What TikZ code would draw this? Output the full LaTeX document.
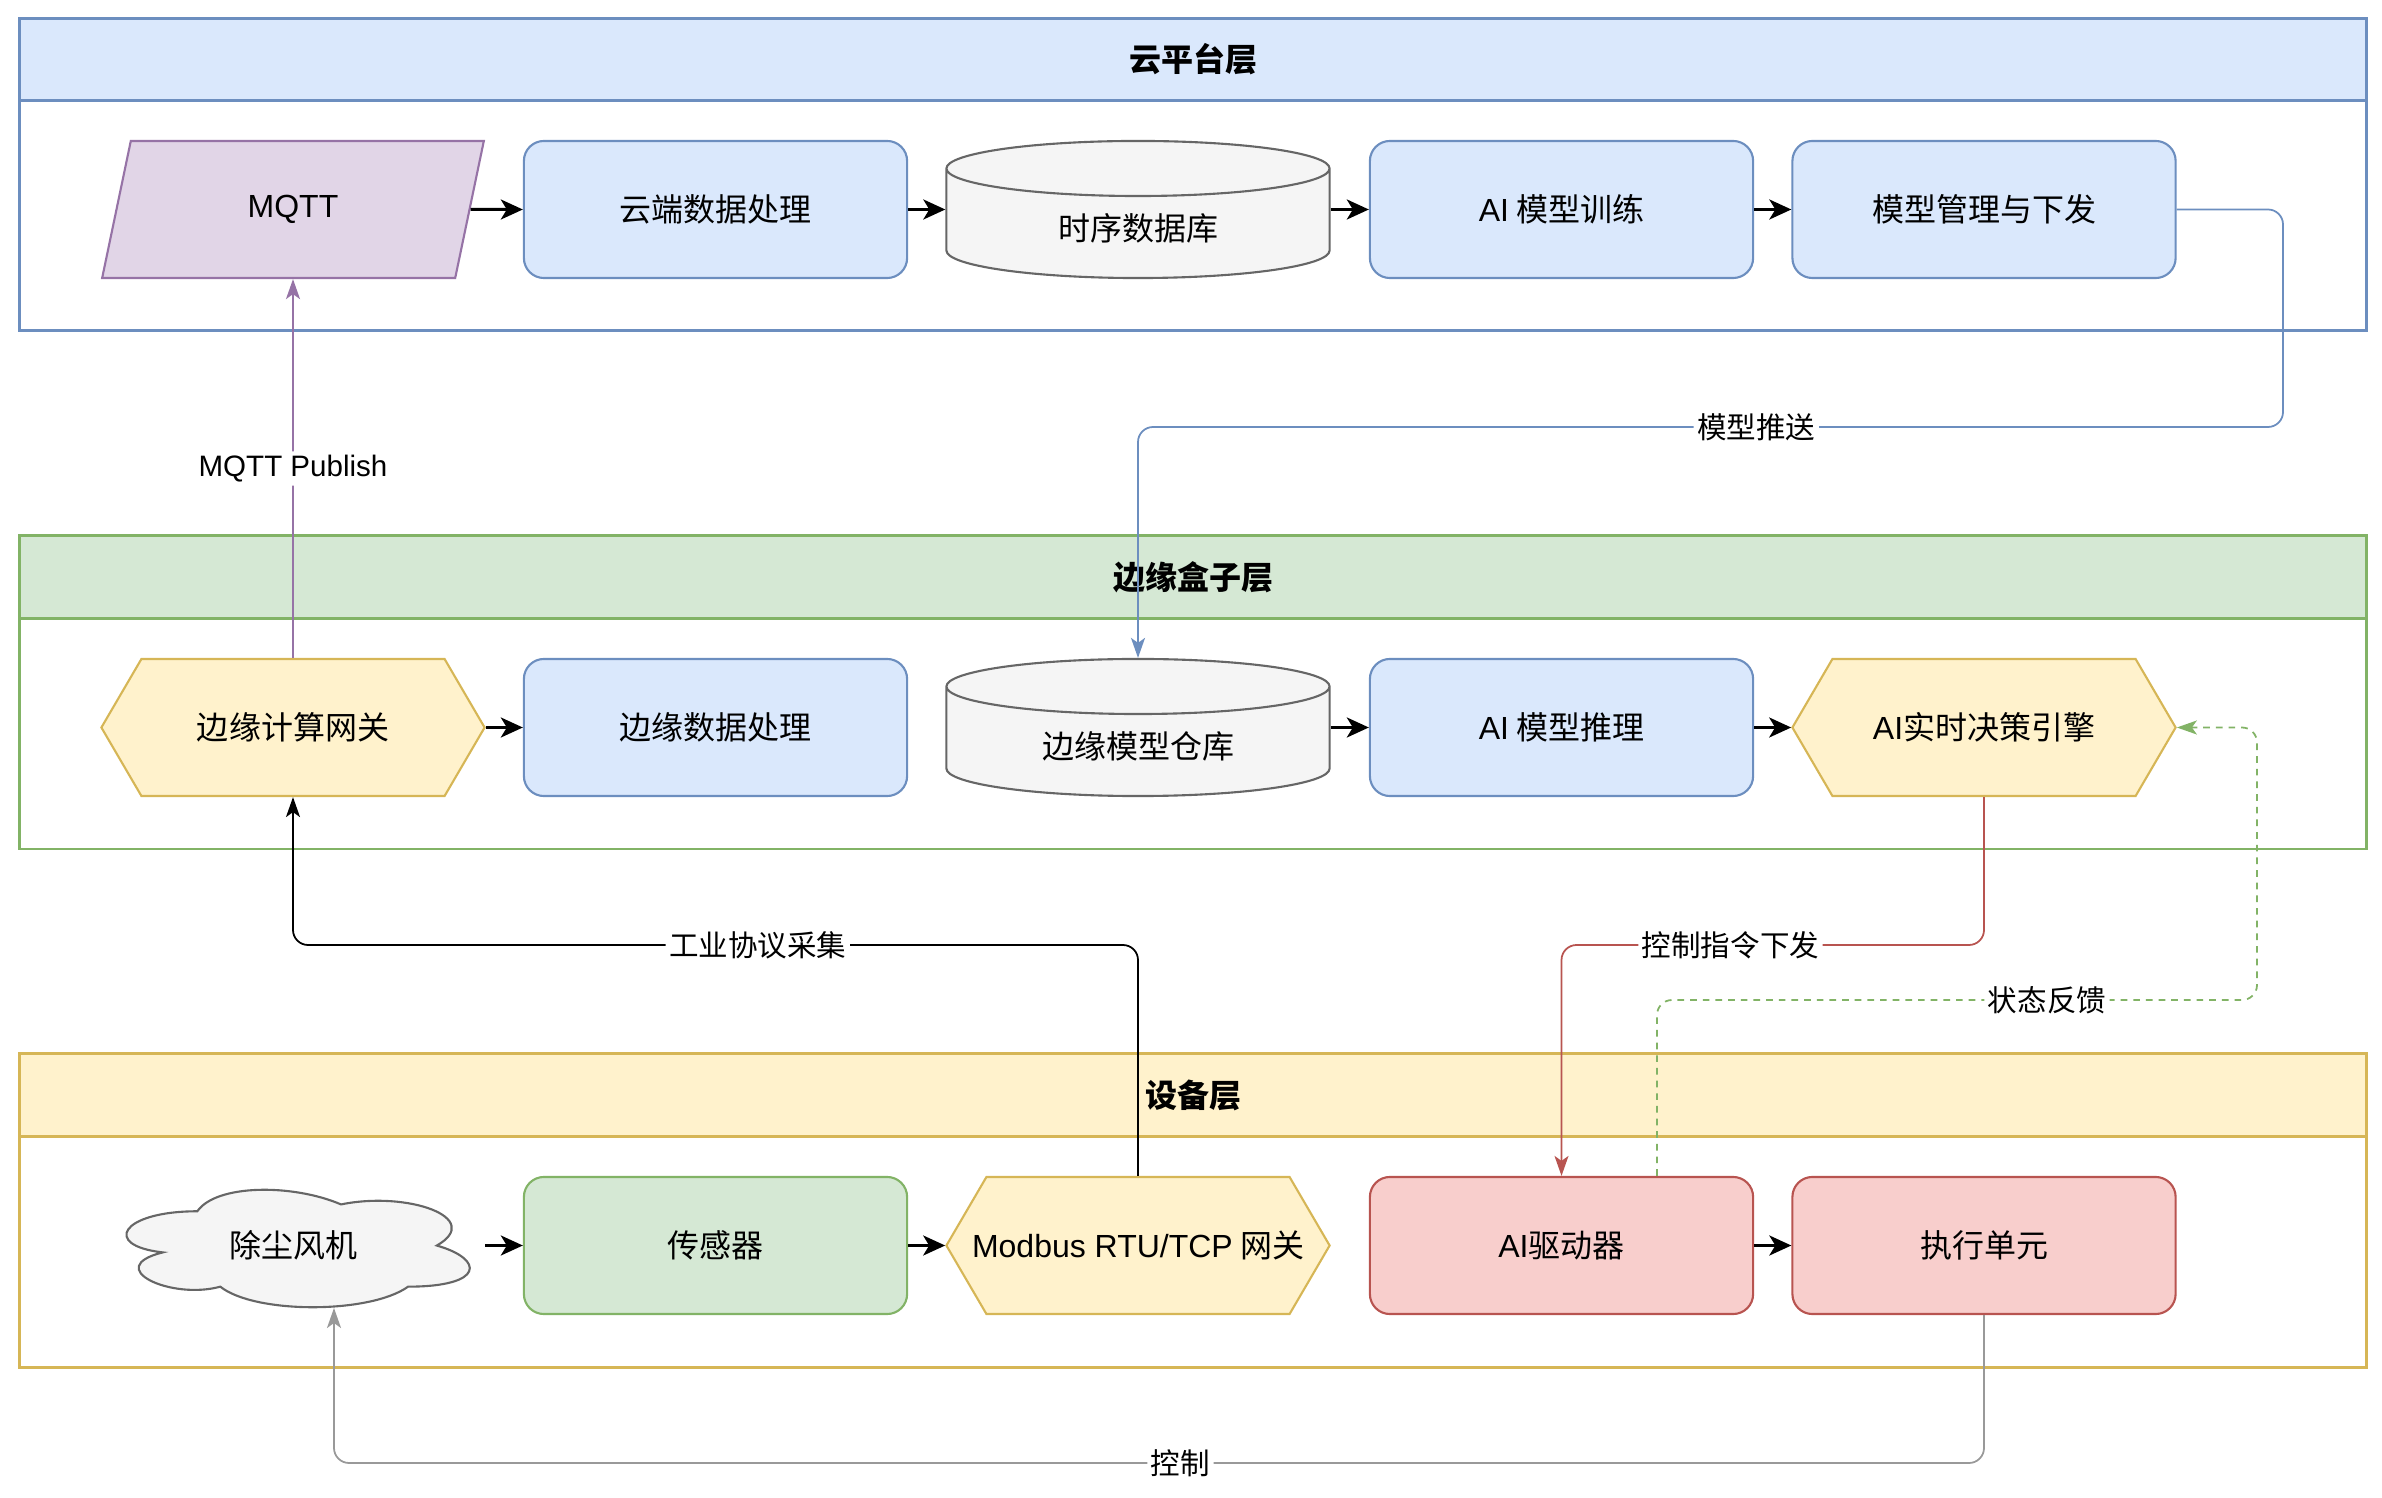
\documentclass[tikz,border=0pt]{standalone}
\usepackage{fontspec}
\setmainfont{Liberation Sans}
\newfontfamily\zh{Noto Sans CJK SC}
\usetikzlibrary{shapes.geometric,shapes.symbols,arrows.meta}

\definecolor{bluefill}{HTML}{DAE8FC}
\definecolor{blueline}{HTML}{6C8EBF}
\definecolor{greenfill}{HTML}{D5E8D4}
\definecolor{greenline}{HTML}{82B366}
\definecolor{yellowfill}{HTML}{FFF2CC}
\definecolor{yellowline}{HTML}{D6B656}
\definecolor{redfill}{HTML}{F8CECC}
\definecolor{redline}{HTML}{B85450}
\definecolor{purplefill}{HTML}{E1D5E7}
\definecolor{purpleline}{HTML}{9673A6}
\definecolor{grayfill}{HTML}{F5F5F5}
\definecolor{grayline}{HTML}{666666}
\definecolor{ctrlline}{HTML}{999999}

\newcommand\entxt[1]{{\normalfont #1}}

\tikzset{
  nodetext/.style={font=\zh\fontsize{9.1}{11}\selectfont},
  box/.style={nodetext, draw, rounded corners=0.2cm, line width=0.6pt,
    minimum width=3.83cm, minimum height=1.37cm},
  hexbox/.style={nodetext, signal, signal to=east and west, signal pointer angle=119.4,
    draw=yellowline, fill=yellowfill, line width=0.6pt,
    minimum width=3.83cm, minimum height=1.37cm},
  db/.style={nodetext, cylinder, shape border rotate=90, aspect=0.3, draw=grayline,
    fill=grayfill, line width=0.6pt, minimum width=3.83cm, minimum height=1.37cm,
    anchor=shape center},
  para/.style={nodetext, trapezium, trapezium left angle=79, trapezium right angle=101,
    trapezium stretches=true, draw=purpleline, fill=purplefill, line width=0.6pt,
    minimum width=3.83cm, minimum height=1.37cm},
  puff/.style={nodetext, minimum width=3.83cm, minimum height=1.37cm},
  puffline/.style={draw=grayline, fill=grayfill, line width=0.6pt},
  layer/.style={line width=0.85pt},
  laytitle/.style={font=\zh\bfseries\fontsize{9.1}{11}\selectfont, line width=0.85pt,
    minimum width=23.46cm, minimum height=0.82cm},
  flow/.style={line width=0.85pt, -{Stealth[length=0.22cm,width=0.2cm,inset=0.06cm]}},
  link/.style={line width=0.5pt, rounded corners=0.15cm,
    -{Stealth[length=0.2cm,width=0.14cm,inset=0.05cm]}},
  elabel/.style={fill=white, text=black, inner sep=1pt, font=\zh\fontsize{8.4}{10}\selectfont}
}

\begin{document}
\begin{tikzpicture}[x=0.01cm,y=-0.01cm]
  \useasboundingbox (0,0) rectangle (2382,1498);

  % layers
  \draw[layer, draw=blueline] (19.7,18.2) rectangle (2366,331);
  \node[laytitle, draw=blueline, fill=bluefill] (cloudtitle) at (1193,59.3) {云平台层};
  \draw[layer, draw=greenline] (19.7,536) rectangle (2366,849);
  \node[laytitle, draw=greenline, fill=greenfill] (edgetitle) at (1193,577) {边缘盒子层};
  \draw[layer, draw=yellowline] (19.7,1054) rectangle (2366,1367);
  \node[laytitle, draw=yellowline, fill=yellowfill] (devtitle) at (1193,1095) {设备层};

  % cloud platform row
  \node[para] (mqtt) at (293,209.5) {\entxt{MQTT}};
  \node[box, draw=blueline, fill=bluefill] (cloudproc) at (715.5,209.5) {云端数据处理};
  \node[db] (tsdb) at (1138,209.5) {\makebox[1.6cm]{时序数据库}};
  \node[box, draw=blueline, fill=bluefill] (train) at (1561.5,209.5) {\entxt{AI} 模型训练};
  \node[box, draw=blueline, fill=bluefill] (mgmt) at (1984,209.5) {模型管理与下发};

  % edge box row
  \node[hexbox] (gw) at (293,727.5) {边缘计算网关};
  \node[box, draw=blueline, fill=bluefill] (edgeproc) at (715.5,727.5) {边缘数据处理};
  \node[db] (repo) at (1138,727.5) {\makebox[1.6cm]{边缘模型仓库}};
  \node[box, draw=blueline, fill=bluefill] (infer) at (1561.5,727.5) {\entxt{AI} 模型推理};
  \node[hexbox] (engine) at (1984,727.5) {\entxt{AI}实时决策引擎};

  % device row, the fan cloud outline first
  \begin{scope}[shift={(101.5,1177)}, x=3.83cm, y=-1.37cm]
    \draw[puffline] (0.25,0.25) .. controls (0.05,0.25) and (0,0.5) .. (0.16,0.55)
      .. controls (0,0.66) and (0.18,0.9) .. (0.31,0.8)
      .. controls (0.4,1) and (0.7,1) .. (0.8,0.8)
      .. controls (1,0.8) and (1,0.6) .. (0.875,0.5)
      .. controls (1,0.3) and (0.8,0.1) .. (0.625,0.2)
      .. controls (0.5,0.05) and (0.3,0.05) .. (0.25,0.25) -- cycle;
  \end{scope}
  \node[puff] (fan) at (293,1245.5) {除尘风机};
  \node[box, draw=greenline, fill=greenfill] (sensor) at (715.5,1245.5) {传感器};
  \node[hexbox] (modbus) at (1138,1245.5) {\makebox[2.6cm]{\entxt{Modbus RTU/TCP} 网关}};
  \node[box, draw=redline, fill=redfill] (aidrv) at (1561.5,1245.5) {\entxt{AI}驱动器};
  \node[box, draw=redline, fill=redfill] (exec) at (1984,1245.5) {执行单元};
  \coordinate (fanin) at (334,1308);

  % flows inside the layers
  \foreach \a/\b in {mqtt/cloudproc, train/mgmt, gw/edgeproc, infer/engine,
                     fan/sensor, sensor/modbus, aidrv/exec}
    \draw[flow] (\a.east) -- (\b.west);
  \draw[flow] (cloudproc.east) -- (cloudproc.east -| tsdb.west);
  \draw[flow] (train.west -| tsdb.east) -- (train.west);
  \draw[flow] (infer.west -| repo.east) -- (infer.west);

  % links between the layers
  \draw[link, draw=purpleline] (gw.north) -- node[elabel] {\entxt{MQTT Publish}} (mqtt.south);
  \draw[link, draw=blueline] (mgmt.east) -| (2283,427)
    -- node[elabel, pos=0.46] {模型推送} (1138,427) -- (repo.north);
  \draw[link, draw=black] (modbus.north) -- (1138,945)
    -- node[elabel, pos=0.45] {工业协议采集} (293,945) -- (gw.south);
  \draw[link, draw=redline] (engine.south) -- (1984,945)
    -- node[elabel, pos=0.6] {控制指令下发} (1561.5,945) -- (aidrv.north);
  \draw[link, draw=greenline, dash pattern=on 1.9pt off 1.7pt] ([xshift=0.955cm]aidrv.north)
    -- (1657,1000) -- node[elabel, pos=0.65] {状态反馈} (2257,1000) -- (2257,727.5) -- (engine.east);
  \draw[link, draw=ctrlline] (exec.south) -- (1984,1463)
    -- node[elabel, pos=0.487] {控制} (334,1463) -- (fanin);
\end{tikzpicture}
\end{document}
